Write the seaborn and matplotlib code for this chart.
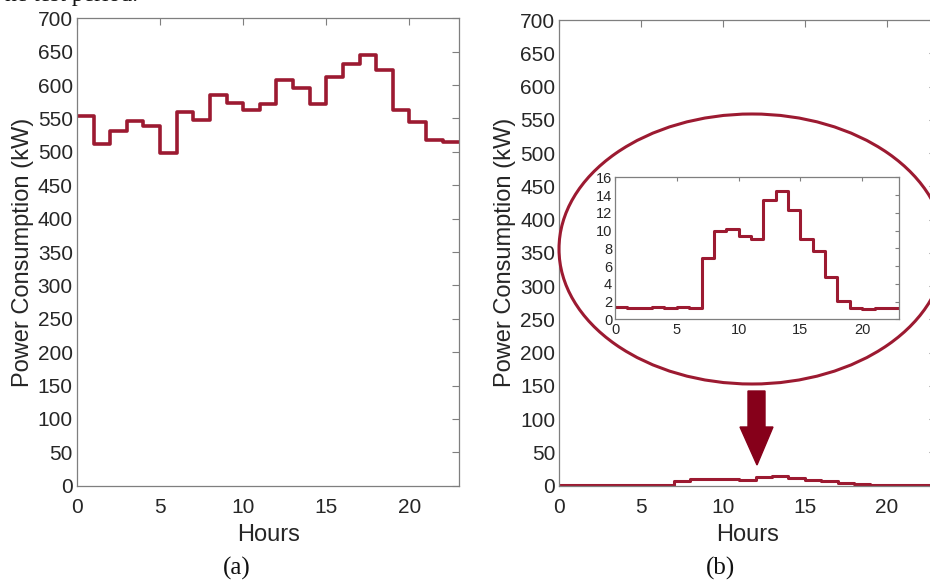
import numpy as np
import pandas as pd
import matplotlib
matplotlib.use("Agg")
import matplotlib.pyplot as plt
from matplotlib.patches import Ellipse, Polygon
import seaborn as sns

# Hourly power consumption (kW), hours 0..23
hours = list(range(24))
building_kw = [553, 511, 531, 546, 539, 499, 559, 547, 585, 573, 562, 571,
               608, 595, 571, 612, 632, 645, 622, 562, 544, 518, 514, 514]
ev_kw = [1.35, 1.25, 1.25, 1.35, 1.25, 1.35, 1.25, 6.95, 9.95, 10.2, 9.4, 9.1,
         13.45, 14.5, 12.3, 9.1, 7.7, 4.8, 2.05, 1.3, 1.2, 1.3, 1.3, 1.3]

x_ticks = [0, 5, 10, 15, 20]
y_ticks = list(range(0, 701, 50))
inset_y_ticks = list(range(0, 17, 2))
panel_labels = ["(a)", "(b)"]

LINE = "#9C1A31"
ARROW = "#86001A"
SPINE = "#7f7f7f"
TEXT = "#262626"

sns.set_style("white")
plt.rcParams["font.family"] = ["Liberation Sans", "DejaVu Sans"]

W, H = 930, 580
fig = plt.figure(figsize=(W / 100, H / 100), dpi=100)


def px_rect(x0, y0, x1, y1):
    """Figure-fraction rectangle from pixel box (top-left origin)."""
    return [x0 / W, 1 - y1 / H, (x1 - x0) / W, (y1 - y0) / H]


def style_axes(ax, fs, ticklen, xpad, ypad):
    for s in ax.spines.values():
        s.set_visible(True)
        s.set_color(SPINE)
        s.set_linewidth(0.9)
    ax.tick_params(direction="in", length=ticklen, width=0.8, color=SPINE,
                   top=True, right=True, labelsize=fs, labelcolor=TEXT)
    ax.tick_params(axis="x", pad=xpad)
    ax.tick_params(axis="y", pad=ypad)


df_a = pd.DataFrame({"Hours": hours, "kW": building_kw})
df_b = pd.DataFrame({"Hours": hours, "kW": ev_kw})

ax_a = fig.add_axes(px_rect(77, 18.3, 459.3, 485.7))
ax_b = fig.add_axes(px_rect(559.3, 20, 935.8, 485.7))

for ax, df, lw in ((ax_a, df_a, 2.6), (ax_b, df_b, 2.2)):
    sns.lineplot(data=df, x="Hours", y="kW", ax=ax, color=LINE, linewidth=lw,
                 drawstyle="steps-post", estimator=None)
    ax.set_xlim(0, 23)
    ax.set_ylim(0, 700)
    ax.set_xticks(x_ticks)
    ax.set_yticks(y_ticks)
    style_axes(ax, 15, 5, 9, 3)
    ax.set_xlabel("Hours", fontsize=17, color=TEXT, labelpad=5)
    ax.set_ylabel("Power Consumption (kW)", fontsize=17, color=TEXT, labelpad=3)

# Zoomed view of panel (b)
ax_in = fig.add_axes(px_rect(615, 177.3, 899.3, 319.3))
sns.lineplot(data=df_b, x="Hours", y="kW", ax=ax_in, color=LINE, linewidth=2.2,
             drawstyle="steps-post", estimator=None)
ax_in.set_xlim(0, 23)
ax_in.set_ylim(0, 16)
ax_in.set_xticks(x_ticks)
ax_in.set_yticks(inset_y_ticks)
style_axes(ax_in, 10.5, 3, 3, 2)
ax_in.set_xlabel("")
ax_in.set_ylabel("")

# Ellipse around the zoomed view
cx, cy, ew, eh = 752, 249, 386, 270
fig.patches.append(Ellipse((cx / W, 1 - cy / H), ew / W, eh / H,
                           transform=fig.transFigure, fill=False,
                           edgecolor=LINE, linewidth=2.2, zorder=5))

# Arrow pointing down to the curve
arrow_px = [(748, 391), (765, 391), (765, 427), (773, 427), (757, 465),
            (740, 427), (748, 427)]
fig.patches.append(Polygon([(x / W, 1 - y / H) for x, y in arrow_px],
                           closed=True, transform=fig.transFigure,
                           facecolor=ARROW, edgecolor=ARROW, zorder=5))

# Panel labels
serif = ["Liberation Serif", "DejaVu Serif"]
fig.text(237 / W, 1 - 568 / H, panel_labels[0], ha="center", va="center",
         fontsize=18, family=serif, color="#111111")
fig.text(720 / W, 1 - 568 / H, panel_labels[1], ha="center", va="center",
         fontsize=18, family=serif, color="#111111")

# Caption text running off the top edge
fig.text(0.005, 1 - 0.5 / H, "he test period.", ha="left", va="baseline",
         fontsize=17, family=serif, color="#111111")

fig.savefig("out.png", dpi=100)
